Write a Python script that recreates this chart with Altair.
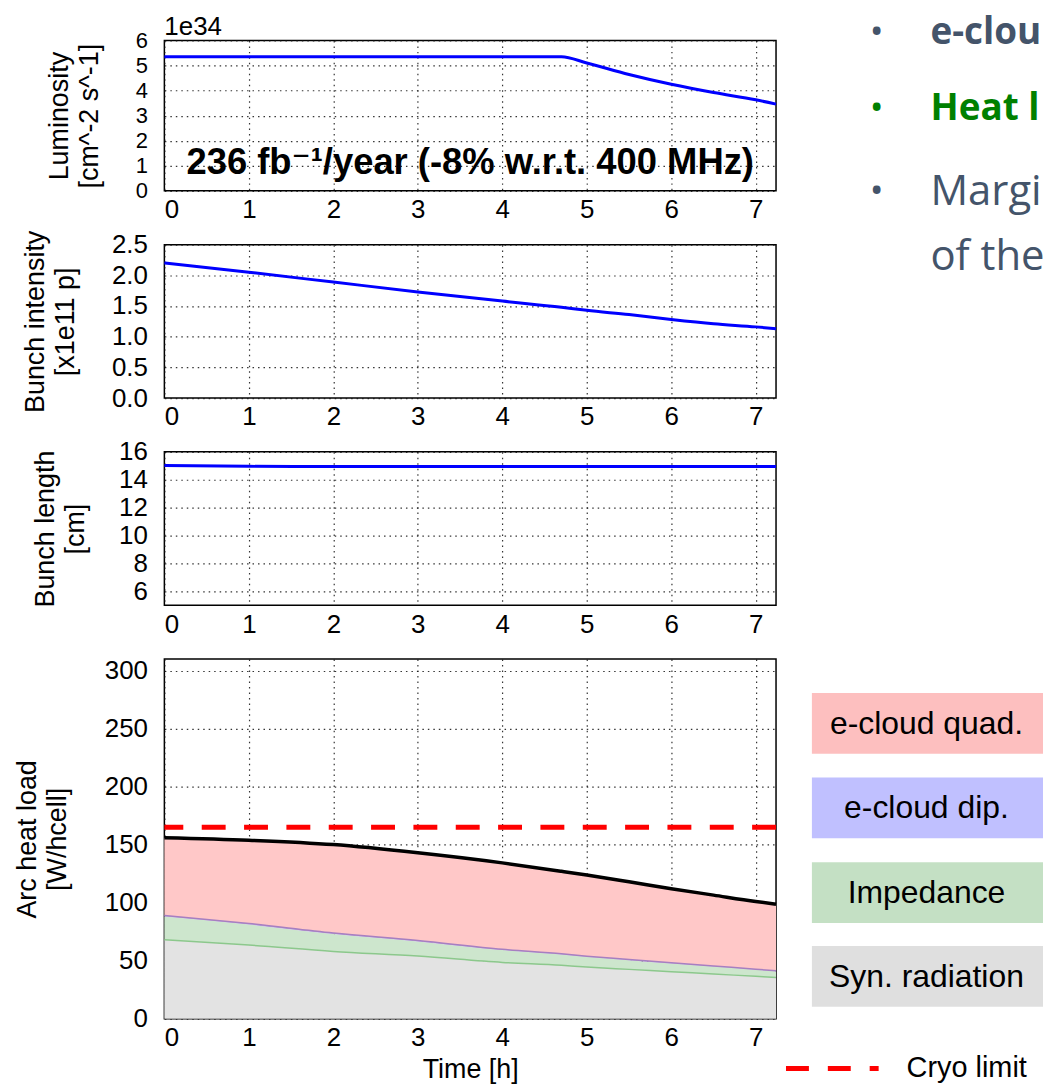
import altair as alt
import pandas as pd

# ---------------- data ----------------
time_h = [0, 1, 2, 3, 4, 4.7, 5, 5.5, 6, 6.5, 7, 7.24]
luminosity_1e34 = [5.35, 5.35, 5.35, 5.35, 5.35, 5.35, 5.10, 4.64, 4.25, 3.92, 3.63, 3.46]
bunch_intensity = [2.20, 2.05, 1.89, 1.73, 1.58, 1.48, 1.43, 1.36, 1.28, 1.21, 1.16, 1.13]
bunch_length = [15.02, 14.96, 14.95, 14.95, 14.95, 14.95, 14.95, 14.95, 14.95, 14.95, 14.95, 14.95]
syn_radiation = [68, 63.5, 58, 54, 48.5, 46, 44.5, 42.5, 40.5, 38.5, 36.5, 35.5]
impedance = [20, 17.6, 15.0, 12.6, 10.6, 9.3, 8.8, 7.9, 7.1, 6.4, 5.7, 5.3]
ecloud_dip = [1.0, 0.9, 0.85, 0.8, 0.7, 0.65, 0.6, 0.6, 0.55, 0.5, 0.5, 0.5]
ecloud_quad = [67.0, 71.8, 76.2, 75.6, 74.5, 71.1, 69.9, 67.0, 63.9, 61.1, 58.3, 57.4]
cryo_limit = 165

x_ticks = [0, 1, 2, 3, 4, 5, 6, 7]
lumi_ticks = [0, 1, 2, 3, 4, 5, 6]
intensity_ticks = [0.0, 0.5, 1.0, 1.5, 2.0, 2.5]
length_ticks = [6, 8, 10, 12, 14, 16]
heat_ticks = [0, 50, 100, 150, 200, 250, 300]

legend_labels = ["e-cloud quad.", "e-cloud dip.", "Impedance", "Syn. radiation"]
legend_colors = ["#FDBFBF", "#C0C0FF", "#C4E0C4", "#DFDFDF"]

slide_bold = ["e-clou", "Heat l"]
slide_bold_colors = ["#44546A", "#008000"]
slide_regular = ["Margi", "of the"]

annotation = "236 fb\u207b\u00b9/year (-8% w.r.t. 400 MHz)"

# ---------------- table ----------------
df = pd.DataFrame({
    "t": time_h,
    "lumi": luminosity_1e34,
    "intensity": bunch_intensity,
    "length": bunch_length,
})
df["zero"] = 0.0
df["syn_top"] = syn_radiation
df["imp_top"] = df["syn_top"] + pd.Series(impedance)
df["dip_top"] = df["imp_top"] + pd.Series(ecloud_dip)
df["total"] = df["dip_top"] + pd.Series(ecloud_quad)

W = 614
FONT = "Liberation Sans, Arial, DejaVu Sans"
SLIDE_FONT = "Open Sans, Noto Sans, DejaVu Sans"


def xenc(title=None):
    return alt.X(
        "t:Q",
        scale=alt.Scale(domain=[0, 7.24], nice=False, zero=False),
        axis=alt.Axis(values=x_ticks, title=title, labelPadding=6, titlePadding=6, format="d"),
    )


def txt(text, x, y, size, color="black", weight="normal", align="left", font=FONT):
    return alt.Chart(pd.DataFrame({"s": [text]})).mark_text(
        align=align, baseline="middle", fontSize=size, color=color,
        fontWeight=weight, font=font,
    ).encode(x=alt.value(x), y=alt.value(y), text="s:N")


base = alt.Chart(df)
blue = dict(color="#0000FF", strokeWidth=3, interpolate="monotone")

# ---------------- panel 1: luminosity ----------------
y1 = alt.Y("lumi:Q", scale=alt.Scale(domain=[0, 6], nice=False),
           axis=alt.Axis(values=lumi_ticks, title=["Luminosity", "[cm^-2 s^-1]"], titleX=-91,
                         labelFontSize=22))
p1_layers = [
    base.mark_line(**blue).encode(x=xenc(), y=y1),
    txt("1e34", 0, -13, 26),
    txt(annotation, 307, 123, 36.5, weight="bold", align="center"),
]
slide_y_bold = [-7, 69]
for s, c, yy in zip(slide_bold, slide_bold_colors, slide_y_bold):
    p1_layers.append(txt("\u2022", 715, yy, 37, color=c, align="center", font=SLIDE_FONT))
    p1_layers.append(txt(s, 769, yy, 37, color=c, weight="bold", font=SLIDE_FONT))
p1_layers.append(txt("\u2022", 715, 152, 37, color="#44546A", align="center", font=SLIDE_FONT))
p1_layers.append(txt(slide_regular[0], 769, 152, 42, color="#44546A", font=SLIDE_FONT))
p1_layers.append(txt(slide_regular[1], 769, 217, 42, color="#44546A", font=SLIDE_FONT))
p1 = alt.layer(*p1_layers).properties(width=W, height=151)

# ---------------- panel 2: bunch intensity ----------------
y2 = alt.Y("intensity:Q", scale=alt.Scale(domain=[0, 2.5], nice=False),
           axis=alt.Axis(values=intensity_ticks, format=".1f",
                         title=["Bunch intensity", "[x1e11 p]"], titleX=-115))
p2 = base.mark_line(**blue).encode(x=xenc(), y=y2).properties(width=W, height=154)

# ---------------- panel 3: bunch length ----------------
y3 = alt.Y("length:Q", scale=alt.Scale(domain=[5, 16], nice=False, zero=False),
           axis=alt.Axis(values=length_ticks, title=["Bunch length", "[cm]"], titleX=-105))
p3 = base.mark_line(**blue).encode(x=xenc(), y=y3).properties(width=W, height=154)

# ---------------- panel 4: heat load ----------------
y4 = alt.Y("syn_top:Q", scale=alt.Scale(domain=[0, 310], nice=False),
           axis=alt.Axis(values=heat_ticks, title=["Arc heat load", "[W/hcell]"], titleX=-123))
area = dict(interpolate="monotone", opacity=1)
p4_layers = [
    base.mark_area(color="#E3E3E3", **area).encode(x=xenc("Time [h]"), y=y4, y2="zero:Q"),
    base.mark_area(color="#CDE6CD", **area).encode(x=xenc("Time [h]"), y="imp_top:Q", y2="syn_top:Q"),
    base.mark_area(color="#B7A8E0", **area).encode(x=xenc("Time [h]"), y="dip_top:Q", y2="imp_top:Q"),
    base.mark_area(color="#FFC8C8", **area).encode(x=xenc("Time [h]"), y="total:Q", y2="dip_top:Q"),
    base.mark_line(color="#8CC88C", strokeWidth=1.5, interpolate="monotone").encode(x=xenc("Time [h]"), y="syn_top:Q"),
    base.mark_line(color="#A77FC0", strokeWidth=1.5, interpolate="monotone").encode(x=xenc("Time [h]"), y="dip_top:Q"),
    base.mark_line(color="black", strokeWidth=3.5, interpolate="monotone").encode(x=xenc("Time [h]"), y="total:Q"),
    alt.Chart(pd.DataFrame({"c": [cryo_limit]})).mark_rule(
        color="#FF0000", strokeWidth=5, strokeDash=[24, 18.5]).encode(y="c:Q"),
]
box_tops = [34, 119, 204, 288]
for lab, col, top in zip(legend_labels, legend_colors, box_tops):
    p4_layers.append(
        alt.Chart(pd.DataFrame({"s": [lab]})).mark_rect(color=col).encode(
            x=alt.value(650), x2=alt.value(882), y=alt.value(top), y2=alt.value(top + 61))
    )
    p4_layers.append(txt(lab, 765, top + 31, 32, align="center"))
p4_layers.append(
    alt.Chart(pd.DataFrame({"s": ["Cryo limit"]})).mark_rule(
        color="#FF0000", strokeWidth=5, strokeDash=[23, 19]).encode(
        x=alt.value(624), x2=alt.value(717), y=alt.value(411))
)
p4_layers.append(txt("Cryo limit", 745, 411, 29))
p4 = alt.layer(*p4_layers).properties(width=W, height=361)

chart = alt.vconcat(p1, p2, p3, p4, spacing=54, bounds="flush").properties(
    padding={"left": 13, "top": 11.5, "right": 0, "bottom": 0}
).configure(font=FONT).configure_view(
    stroke="black", strokeWidth=1.5
).configure_axis(
    labelFontSize=26, titleFontSize=27, labelColor="black", titleColor="black",
    titleFontWeight="normal", labelFont=FONT, titleFont=FONT, labelOverlap=False,
    grid=True, gridColor="#111111", gridDash=[1.5, 4], gridWidth=1.2, gridOpacity=0.85,
    domain=False, ticks=False, zindex=1, titleLineHeight=30,
).configure_axisY(labelPadding=17).configure_axisX(labelPadding=6)

chart.save("out.html", embed_options={"renderer": "svg", "actions": False})
